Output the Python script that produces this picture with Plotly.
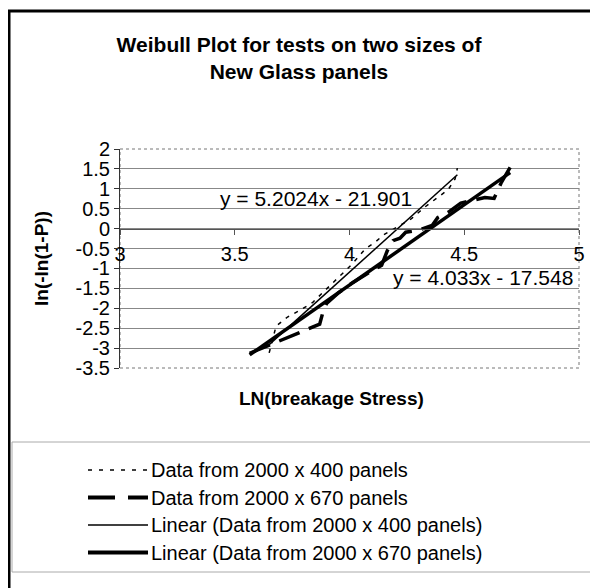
import plotly.graph_objects as go

# ---------------- data ----------------
x_400 = [3.65, 3.68, 3.73, 3.79, 3.84, 3.90, 3.95, 4.01, 4.07, 4.11, 4.15, 4.22, 4.27, 4.33, 4.40, 4.43, 4.46, 4.47]
y_400 = [-3.12, -2.45, -2.22, -2.03, -1.85, -1.52, -1.22, -0.90, -0.50, -0.35, -0.15, 0.08, 0.25, 0.55, 0.85, 0.98, 1.25, 1.52]

x_670 = [3.565, 3.87, 3.885, 3.90, 3.95, 4.015, 4.08, 4.14, 4.165, 4.19, 4.22, 4.245, 4.30, 4.36, 4.385, 4.43, 4.485, 4.59, 4.63, 4.66, 4.70]
y_670 = [-3.13, -2.40, -2.08, -1.88, -1.62, -1.35, -1.12, -0.92, -0.55, -0.30, -0.24, -0.09, -0.04, 0.08, 0.28, 0.41, 0.64, 0.78, 0.76, 1.14, 1.54]

trend_400 = (5.2024, -21.901)
trend_670 = (4.033, -17.548)

eq_400 = "y = 5.2024x - 21.901"
eq_670 = "y = 4.033x - 17.548"

x_ticks = [3, 3.5, 4, 4.5, 5]
x_ticklabels = ["3", "3.5", "4", "4.5", "5"]
y_ticks = [-3.5, -3, -2.5, -2, -1.5, -1, -0.5, 0, 0.5, 1, 1.5, 2]
y_ticklabels = ["-3.5", "-3", "-2.5", "-2", "-1.5", "-1", "-0.5", "0", "0.5", "1", "1.5", "2"]

legend_names = [
    "Data from 2000 x 400 panels",
    "Data from 2000 x 670 panels",
    "Linear (Data from 2000 x 400 panels)",
    "Linear (Data from 2000 x 670 panels)",
]

title_text = "Weibull Plot for tests on two sizes of<br>New Glass panels"
x_title = "LN(breakage Stress)"
y_title = "ln(-ln(1-P))"

# ---------------- layout geometry (page pixel coords) ----------------
OFF = 8                      # default body margin of the html page
FW, FH = 598 - OFF, 588 - OFF
L, R, T, B = 120, 579, 149, 368   # plot area in page pixels
PW, PH = R - L, B - T
YMIN, YMAX = -3.5, 2.0

def pxp(px):
    return (px - L) / PW

def pyp(py):
    return (B - py) / PH

FONT = "Liberation Sans, Arial, sans-serif"

fig = go.Figure()

fig.add_trace(go.Scatter(x=x_400, y=y_400, mode="lines", name=legend_names[0],
                         line=dict(color="black", width=1.5, dash="4px,6px"), showlegend=False))
fig.add_trace(go.Scatter(x=x_670, y=y_670, mode="lines", name=legend_names[1],
                         line=dict(color="black", width=3.5, dash="22px,10px"), showlegend=False))

def trend(xs, coef):
    xr = [min(xs), max(xs)]
    return xr, [coef[0] * v + coef[1] for v in xr]

tx, ty = trend(x_400, trend_400)
fig.add_trace(go.Scatter(x=tx, y=ty, mode="lines", name=legend_names[2],
                         line=dict(color="black", width=1.5), showlegend=False))
tx, ty = trend(x_670, trend_670)
fig.add_trace(go.Scatter(x=tx, y=ty, mode="lines", name=legend_names[3],
                         line=dict(color="black", width=3.5), showlegend=False))

shapes = []
annotations = []

shapes.append(dict(type="rect", xref="paper", yref="paper", x0=0, x1=1, y0=0, y1=1,
                   line=dict(color="#777", width=1, dash="dot"), layer="below"))

shapes.append(dict(type="rect", xref="paper", yref="paper",
                   x0=pxp(9), x1=pxp(620), y0=pyp(620), y1=pyp(11),
                   line=dict(color="black", width=3)))

shapes.append(dict(type="rect", xref="paper", yref="paper",
                   x0=pxp(12), x1=pxp(605), y0=pyp(572), y1=pyp(442),
                   line=dict(color="#aaa", width=1)))

legend_y = [470, 497.5, 525, 552.5]
legend_styles = [
    dict(color="black", width=1.5, dash="4px,7px"),
    dict(color="black", width=4, dash="27px,13px"),
    dict(color="black", width=1.5),
    dict(color="black", width=4),
]
for name, ly, st in zip(legend_names, legend_y, legend_styles):
    shapes.append(dict(type="line", xref="paper", yref="paper",
                       x0=pxp(88), x1=pxp(148), y0=pyp(ly), y1=pyp(ly), line=st))
    annotations.append(dict(text=name, xref="paper", yref="paper", x=pxp(149), y=pyp(ly),
                            xanchor="left", yanchor="middle", showarrow=False,
                            font=dict(family=FONT, size=20, color="black")))

annotations.append(dict(text=eq_400, xref="x", yref="y", x=3.855, y=0.76,
                        showarrow=False, xanchor="center", yanchor="middle",
                        font=dict(family=FONT, size=21, color="black")))
annotations.append(dict(text=eq_670, xref="x", yref="y", x=4.58, y=-1.22,
                        showarrow=False, xanchor="center", yanchor="middle",
                        font=dict(family=FONT, size=21, color="black")))

annotations.append(dict(text="<b>" + x_title + "</b>", xref="paper", yref="paper",
                        x=pxp(331), y=pyp(398), showarrow=False,
                        xanchor="center", yanchor="middle",
                        font=dict(family=FONT, size=19, color="black")))

fig.update_layout(
    width=FW, height=FH,
    margin=dict(l=L - OFF, r=FW - (R - OFF), t=T - OFF, b=FH - (B - OFF), autoexpand=False),
    paper_bgcolor="white", plot_bgcolor="white",
    title=dict(text="<b>" + title_text + "</b>", x=(299 - OFF) / FW, xref="container", xanchor="center",
               y=1 - (52 - OFF) / FH, yref="container", yanchor="top",
               font=dict(family=FONT, size=21, color="black")),
    shapes=shapes, annotations=annotations,
    showlegend=False,
    font=dict(family=FONT, color="black"),
)

y0_paper = (0 - YMIN) / (YMAX - YMIN)
fig.update_xaxes(range=[3, 5], tickvals=x_ticks, ticktext=x_ticklabels,
                 anchor="free", position=y0_paper,
                 showgrid=False, zeroline=False,
                 showline=True, linecolor="#555", linewidth=1,
                 ticks="outside", ticklen=5, tickcolor="#555",
                 ticklabelstandoff=2,
                 tickfont=dict(family=FONT, size=20, color="black"))
fig.update_yaxes(range=[YMIN, YMAX], tickvals=y_ticks, ticktext=y_ticklabels,
                 showgrid=True, gridcolor="#888", gridwidth=1, zeroline=False,
                 showline=True, linecolor="#333", linewidth=1,
                 ticks="outside", ticklen=5, tickcolor="#333",
                 tickfont=dict(family=FONT, size=20, color="black"),
                 title=dict(text="<b>" + y_title + "</b>", standoff=21,
                            font=dict(family=FONT, size=19, color="black")))

fig.write_html("out.html")
